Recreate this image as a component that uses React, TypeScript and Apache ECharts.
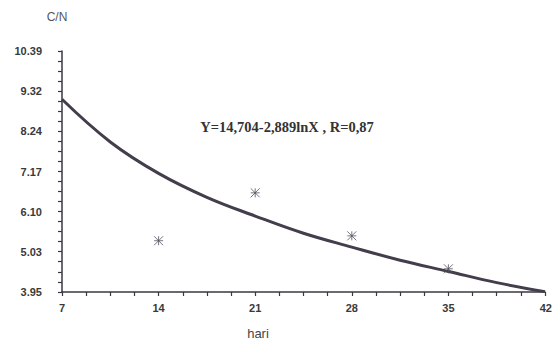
import React, { useEffect, useRef } from "react";
import * as echarts from "echarts";

const xTickValues = [7, 14, 21, 28, 35, 42];
const yTickValues = [3.95, 5.03, 6.10, 7.17, 8.24, 9.32, 10.39];
const yTickLabels = ["3.95", "5.03", "6.10", "7.17", "8.24", "9.32", "10.39"];

// observed points (hari, C/N)
const obsX = [14, 21, 28, 35];
const obsY = [5.32, 6.6, 5.45, 4.57];

// fitted curve
const curveX = [7, 10.5, 14, 17.5, 21, 24.5, 28, 31.5, 35, 38.5, 42];
const curveY = [9.1, 7.96, 7.12, 6.48, 5.98, 5.52, 5.15, 4.8, 4.5, 4.2, 3.96];

const equationText = "Y=14,704-2,889lnX , R=0,87";

function subdivide(vals: number[], parts: number): number[] {
  const out: number[] = [];
  for (let i = 0; i < vals.length - 1; i++) {
    for (let k = 0; k < parts; k++) {
      out.push(vals[i] + ((vals[i + 1] - vals[i]) * k) / parts);
    }
  }
  out.push(vals[vals.length - 1]);
  return out;
}

const labelFont = {
  color: "#3a3a3a",
  fontFamily: "Liberation Sans, Arial, sans-serif",
  fontWeight: "bold",
  fontSize: 11,
};

export default function App() {
  const ref = useRef<HTMLDivElement>(null);
  useEffect(() => {
    if (!ref.current) return;
    const chart = echarts.init(ref.current, null, { renderer: "svg" });
    const axisColor = "#3b3742";
    const lastX = xTickValues[xTickValues.length - 1];
    chart.setOption({
      animation: false,
      backgroundColor: "#ffffff",
      grid: { left: 62, right: 8, top: 51, bottom: 53, containLabel: false },
      xAxis: {
        type: "value",
        min: 7,
        max: 42,
        interval: 7,
        axisLine: { show: true, lineStyle: { color: axisColor, width: 1.5 } },
        axisTick: {
          show: true,
          length: 4,
          inside: false,
          customValues: subdivide(xTickValues, 4),
          lineStyle: { color: axisColor, width: 1.2 },
        },
        axisLabel: {
          customValues: xTickValues.slice(0, -1),
          margin: 10,
          ...labelFont,
        },
        splitLine: { show: false },
      },
      yAxis: {
        type: "value",
        min: 3.95,
        max: 10.39,
        axisLine: { show: true, lineStyle: { color: axisColor, width: 1.5 } },
        axisTick: {
          show: true,
          length: 4,
          customValues: subdivide(yTickValues, 4),
          lineStyle: { color: axisColor, width: 1.2 },
        },
        axisLabel: {
          customValues: yTickValues,
          formatter: (v: number) => {
            const i = yTickValues.findIndex((t) => Math.abs(t - v) < 1e-6);
            return i >= 0 ? yTickLabels[i] : "";
          },
          margin: 20,
          padding: [14, 0, 0, 0],
          ...labelFont,
        },
        splitLine: { show: false },
      },
      series: [
        {
          type: "line",
          data: curveX.map((x, i) => [x, curveY[i]]),
          smooth: 0.4,
          showSymbol: false,
          lineStyle: { color: "#433d4c", width: 3 },
          z: 3,
        },
        {
          type: "scatter",
          data: obsX.map((x, i) => [x, obsY[i]]),
          symbol: "path://M0,0 L10,10 M10,0 L0,10 M5,0 L5,10 M0,5 L10,5",
          symbolSize: 9,
          itemStyle: { color: "transparent", borderColor: "#555060", borderWidth: 1 },
          z: 4,
        },
      ],
    });
    const p = chart.convertToPixel({ gridIndex: 0 }, [lastX, 3.95]) as number[];
    chart.setOption({
      graphic: [
        {
          type: "text",
          x: 57,
          y: 17,
          style: {
            text: "C/N",
            fill: "#555",
            fontFamily: "Liberation Sans, Arial, sans-serif",
            fontSize: 12,
            align: "center",
            verticalAlign: "middle",
          },
        },
        {
          type: "text",
          x: p[0] + 7,
          y: p[1] + 10,
          style: {
            text: String(lastX),
            fill: labelFont.color,
            fontFamily: labelFont.fontFamily,
            fontWeight: "bold",
            fontSize: 11,
            align: "right",
            verticalAlign: "top",
          },
        },
        {
          type: "text",
          x: 258,
          y: 333,
          style: {
            text: "hari",
            fill: "#444",
            fontFamily: "Liberation Sans, Arial, sans-serif",
            fontSize: 13,
            align: "center",
            verticalAlign: "middle",
          },
        },
        {
          type: "text",
          x: 287,
          y: 127,
          style: {
            text: equationText,
            fill: "#333",
            fontFamily: "Liberation Serif, Times New Roman, serif",
            fontWeight: "bold",
            fontSize: 14.5,
            align: "center",
            verticalAlign: "middle",
          },
        },
      ],
    });
    return () => chart.dispose();
  }, []);
  return (
    <div
      ref={ref}
      style={{ position: "fixed", left: 0, top: 0, width: 553, height: 345 }}
    />
  );
}
